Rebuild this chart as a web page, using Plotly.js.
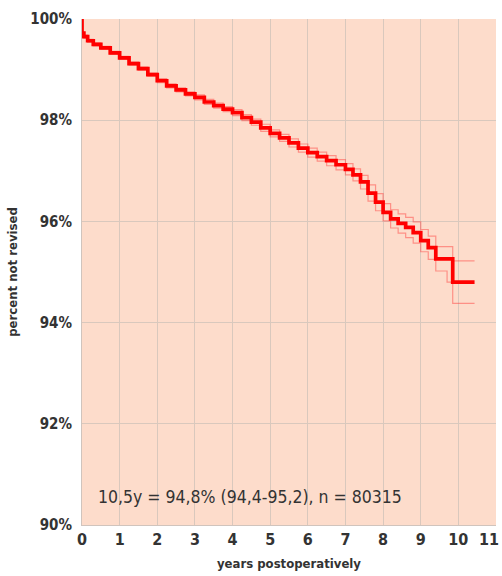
<!DOCTYPE html>
<html>
<head>
<meta charset="utf-8">
<script src="https://cdn.plot.ly/plotly-3.0.1.min.js"></script>
<style>
html,body{margin:0;padding:0;background:#fff;}
#chart{width:502px;height:576px;}
</style>
</head>
<body>
<div id="chart"></div>
<script>
const years = [0, 0, 0.05, 0.15, 0.3, 0.5, 0.75, 1.0, 1.25, 1.5, 1.75, 2.0, 2.25, 2.5, 2.75, 3.0, 3.25, 3.5, 3.75, 4.0, 4.25, 4.5, 4.75, 5.0, 5.25, 5.5, 5.75, 6.0, 6.25, 6.5, 6.75, 7.0, 7.2, 7.4, 7.6, 7.8, 8.0, 8.2, 8.4, 8.6, 8.8, 9.0, 9.2, 9.4, 9.7, 9.85, 10.43];
const survival = [100, 99.72, 99.65, 99.57, 99.50, 99.43, 99.33, 99.23, 99.12, 99.02, 98.90, 98.78, 98.68, 98.60, 98.52, 98.45, 98.36, 98.29, 98.22, 98.15, 98.05, 97.96, 97.85, 97.74, 97.65, 97.55, 97.45, 97.36, 97.28, 97.20, 97.12, 97.03, 96.92, 96.78, 96.56, 96.38, 96.18, 96.05, 95.96, 95.88, 95.78, 95.62, 95.48, 95.26, 95.26, 94.80, 94.80];
const upperCI = [100, 99.74, 99.68, 99.60, 99.53, 99.46, 99.36, 99.26, 99.15, 99.05, 98.93, 98.82, 98.72, 98.64, 98.56, 98.50, 98.41, 98.34, 98.27, 98.21, 98.11, 98.02, 97.92, 97.81, 97.72, 97.63, 97.53, 97.45, 97.37, 97.30, 97.22, 97.14, 97.04, 96.91, 96.72, 96.55, 96.35, 96.23, 96.15, 96.08, 95.99, 95.84, 95.71, 95.50, 95.50, 95.22, 95.22];
const lowerCI = [100, 99.70, 99.62, 99.54, 99.47, 99.40, 99.30, 99.20, 99.09, 98.99, 98.87, 98.74, 98.64, 98.56, 98.48, 98.40, 98.31, 98.24, 98.17, 98.09, 97.99, 97.90, 97.78, 97.67, 97.58, 97.47, 97.37, 97.27, 97.19, 97.10, 97.02, 96.92, 96.80, 96.64, 96.40, 96.21, 96.01, 95.87, 95.77, 95.68, 95.57, 95.40, 95.25, 95.02, 94.80, 94.38, 94.38];
const yTicks = [90, 92, 94, 96, 98, 100];
const yTickLabels = ["90%", "92%", "94%", "96%", "98%", "100%"];
const xTicks = [0, 1, 2, 3, 4, 5, 6, 7, 8, 9, 10, 11];
const annotationText = "10,5y = 94,8% (94,4-95,2), n = 80315";

const fontFam = "'DejaVu Sans Condensed', 'DejaVu Sans', sans-serif";
const ciStyle = {color: 'rgba(255,50,50,0.45)', width: 1.2, shape: 'hv'};
const traces = [
  {x: years, y: upperCI, mode: 'lines', line: ciStyle, hoverinfo: 'skip'},
  {x: years, y: lowerCI, mode: 'lines', line: ciStyle, hoverinfo: 'skip'},
  {x: years, y: survival, mode: 'lines', line: {color: '#ff0000', width: 3.7, shape: 'hv'}}
];
const layout = {
  width: 502, height: 576,
  margin: {l: 82, r: 6, t: 19, b: 51},
  paper_bgcolor: '#ffffff',
  plot_bgcolor: '#fddccb',
  showlegend: false,
  font: {family: fontFam, color: '#333333'},
  xaxis: {
    range: [0, 11], tickvals: xTicks, ticktext: xTicks.map(String),
    showgrid: true, gridcolor: '#d9c8bd', gridwidth: 1,
    zeroline: false, showline: true, linecolor: '#d0c4bd', linewidth: 1,
    ticks: '', ticklen: 0,
    tickfont: {family: fontFam, size: 16, color: '#333333', weight: 'bold'},
    title: {text: 'years postoperatively', font: {family: fontFam, size: 13, color: '#333333', weight: 'bold'}, standoff: 10}
  },
  yaxis: {
    range: [90, 100], tickvals: yTicks, ticktext: yTickLabels,
    showgrid: true, gridcolor: '#d9c8bd', gridwidth: 1,
    zeroline: false, showline: true, linecolor: '#d0c4bd', linewidth: 1,
    ticks: '', ticklen: 0, ticklabelstandoff: 6,
    tickfont: {family: fontFam, size: 15, color: '#333333', weight: 'bold'},
    title: {text: 'percent not revised', font: {family: fontFam, size: 13, color: '#333333', weight: 'bold'}, standoff: 9}
  },
  annotations: [{
    text: annotationText, xref: 'x', yref: 'y', x: 4.47, y: 90.55,
    showarrow: false, xanchor: 'center', yanchor: 'middle',
    font: {family: fontFam, size: 17.5, color: '#333333'}
  }, {
    text: String(xTicks[xTicks.length - 1]), xref: 'x', yref: 'paper', x: 11, y: 0,
    xshift: 5, yshift: -3, showarrow: false, xanchor: 'right', yanchor: 'top',
    font: {family: fontFam, size: 16, color: '#333333', weight: 'bold'}
  }]
};
Plotly.newPlot('chart', traces, layout, {displayModeBar: false, staticPlot: true});
</script>
</body>
</html>
